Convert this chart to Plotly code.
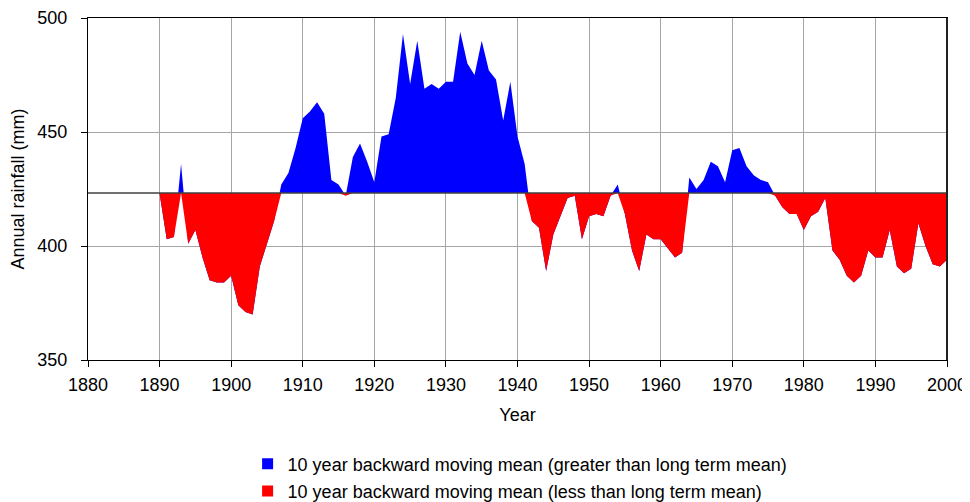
import numpy as np
import plotly.graph_objects as go

years = list(range(1890, 2001))
rainfall = [423, 403, 404, 436, 401, 407, 395, 385, 384, 384,
            387, 374, 371, 370, 391, 401, 411, 427, 432, 443,
            456, 459, 463, 458, 429, 427, 422, 439, 445, 437,
            428, 448, 449, 465, 493, 471, 490, 469, 471, 469,
            472, 472, 494, 480, 475, 490, 477, 473, 455, 472,
            448, 436, 411, 408, 389, 405, 413, 421, 422, 403,
            413, 414, 413, 422, 427, 414, 398, 389, 405, 403,
            403, 399, 395, 397, 430, 425, 429, 437, 435, 428,
            442, 443, 435, 431, 429, 428, 422, 417, 414, 414,
            407, 413, 415, 421, 398, 394, 387, 384, 387, 398,
            395, 395, 407, 391, 388, 390, 410, 400, 392, 391,
            394]
long_term_mean = 423.2

label_above = "10 year backward moving mean (greater than long term mean)"
label_below = "10 year backward moving mean (less than long term mean)"

rain = np.array(rainfall, dtype=float)
base = [long_term_mean] * len(years)

font = "Liberation Sans, Arial, sans-serif"

fig = go.Figure()
# blue: full series filled against the mean
fig.add_trace(go.Scatter(x=years, y=base, mode="lines", line=dict(width=0),
                         showlegend=False, hoverinfo="skip"))
fig.add_trace(go.Scatter(x=years, y=rain, mode="lines", line=dict(width=0),
                         fill="tonexty", fillcolor="#0000ff", showlegend=False))
# red drawn on top: series clipped at the mean
fig.add_trace(go.Scatter(x=years, y=base, mode="lines", line=dict(width=0),
                         showlegend=False, hoverinfo="skip"))
fig.add_trace(go.Scatter(x=years, y=np.minimum(rain, long_term_mean), mode="lines",
                         line=dict(width=0), fill="tonexty", fillcolor="#ff0000",
                         showlegend=False))

# legend entries
fig.add_trace(go.Scatter(x=[None], y=[None], mode="markers", name=label_above,
                         marker=dict(symbol="square", size=11, color="#0000ff"),
                         legendgroup="a"))
fig.add_trace(go.Scatter(x=[None], y=[None], mode="markers", name=label_below,
                         marker=dict(symbol="square", size=11, color="#ff0000"),
                         legendgroup="b"))

fig.add_shape(type="line", x0=1880, x1=2000, y0=long_term_mean, y1=long_term_mean,
              line=dict(color="#404040", width=1.5), layer="above")
fig.add_shape(type="line", xref="paper", yref="paper", x0=1, x1=1, y0=0, y1=1,
              line=dict(color="#222222", width=2), layer="above")

# page body adds an 8px offset, so the figure is 962x494
fig.update_layout(
    width=962, height=494,
    margin=dict(l=80, r=23, t=10, b=142, autoexpand=False),
    plot_bgcolor="white", paper_bgcolor="white",
    font=dict(family=font, size=18, color="black"),
    showlegend=True,
    legend=dict(x=0.1858, y=-0.25, xanchor="left", yanchor="top",
                font=dict(size=18), tracegroupgap=1, itemwidth=30,
                bgcolor="rgba(0,0,0,0)"),
    xaxis=dict(range=[1880, 2000], dtick=10, tick0=1880, showgrid=True,
               gridcolor="#a6a6a6", gridwidth=1, showline=True, linecolor="black",
               linewidth=1, mirror=True, ticks="outside", ticklen=6, tickcolor="black",
               zeroline=False, automargin=False, ticklabelstandoff=2,
               ticklabeloverflow="allow",
               title=dict(text="Year", standoff=14, font=dict(size=18))),
    yaxis=dict(range=[350, 500], dtick=50, showgrid=True, gridcolor="#a6a6a6",
               gridwidth=1, showline=True, linecolor="black", linewidth=1, mirror=True,
               ticks="outside", ticklen=6, tickcolor="black", zeroline=False,
               automargin=False, ticklabelstandoff=10, ticklabeloverflow="allow",
               title=dict(text="Annual rainfall (mm)", standoff=16, font=dict(size=18))),
)

fig.write_html("out.html")
